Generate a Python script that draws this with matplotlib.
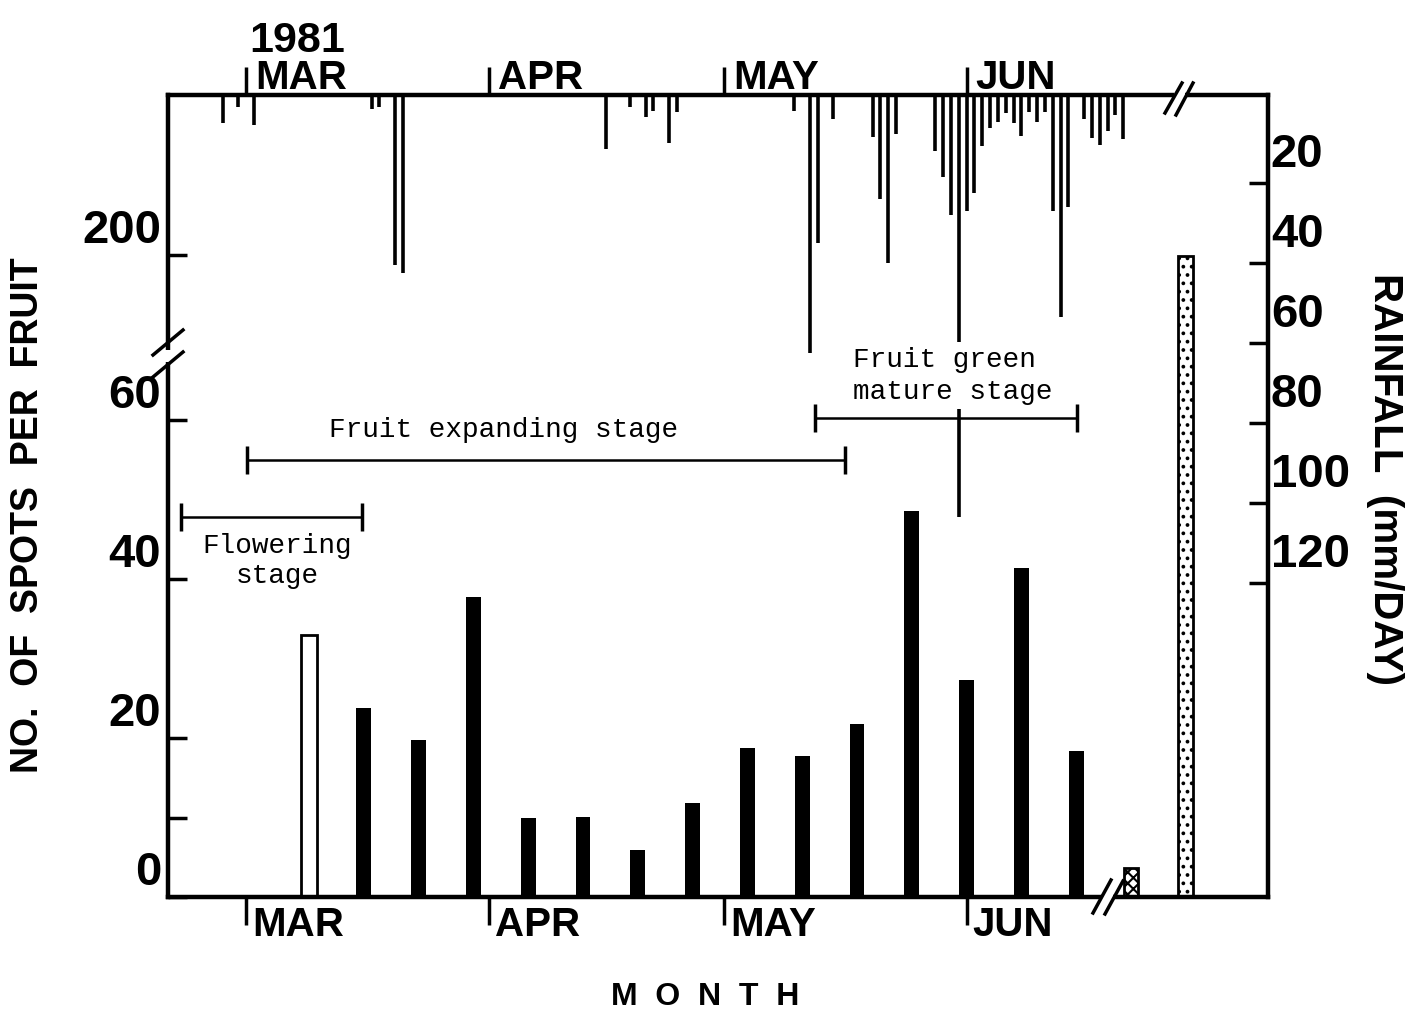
import numpy as np
import matplotlib.pyplot as plt
from matplotlib.transforms import ScaledTranslation, offset_copy, blended_transform_factory

plt.rcParams['font.family'] = ['Liberation Sans', 'DejaVu Sans']
plt.rcParams['font.weight'] = 'bold'
plt.rcParams['hatch.linewidth'] = 1.5

# day numbers counted from 1 March 1981
month_days = [0, 31, 61, 92]
month_names = ['MAR', 'APR', 'MAY', 'JUN']

spot_days = [8, 15, 22, 29, 36, 43, 50, 57, 64, 71, 78, 85, 92, 99, 106]
spot_counts = [33.0, 23.8, 19.7, 37.7, 9.9, 10.1, 5.9, 11.8, 18.7, 17.7,
               21.8, 48.6, 27.3, 41.4, 18.4]
extra_days = [113, 120]
extra_counts = [3.6, 199]

rain_days = [-3, -1, 1, 16, 17, 19, 20, 46, 49, 51, 52, 54, 55, 70, 72, 73,
             75, 80, 81, 82, 83, 88, 89, 90, 91, 92, 93, 94, 95, 96, 97, 98,
             99, 100, 101, 102, 103, 104, 105, 107, 108, 109, 110, 111, 112]
rain_mm = [5, 1, 5.5, 1.5, 1, 40.5, 42.5, 11.5, 1, 3.5, 2, 10, 2.3, 2, 62.5,
           35, 4, 8.5, 24, 40, 7.8, 12, 18.5, 28, 103.5, 27, 22.5, 10.8, 6.3,
           4.8, 2.5, 5, 8.3, 2.3, 4.8, 2.3, 27, 53.5, 26, 4, 8.7, 10.5, 7, 3, 9]

stages = ['Flowering\nstage', 'Fruit expanding stage', 'Fruit green\nmature stage']
stage_start = [-8.3, 0.1, 72.7]
stage_end = [14.8, 76.5, 106.1]
stage_level = [47.8, 55.0, 60.3]


def fwd(v):
    v = np.asarray(v, dtype=float)
    return np.where(v <= 70, v,
                    np.where(v <= 200, 70 + (v - 70) * 10.75 / 130, 80.75 + (v - 200)))


def inv(u):
    u = np.asarray(u, dtype=float)
    return np.where(u <= 70, u,
                    np.where(u <= 80.75, 70 + (u - 70) * 130 / 10.75, 200 + (u - 80.75)))


fig = plt.figure(figsize=(14.05, 10.10), dpi=100)
ax = fig.add_axes([168 / 1405, 1 - 897 / 1010, 1100 / 1405, 802 / 1010])
ax.set_yscale('function', functions=(fwd, inv))
ax.set_xlim(-10, 130.5)
ax.set_ylim(0, float(inv(100.9)))

for s in ax.spines.values():
    s.set_linewidth(3.2)

# spots per fruit
ax.bar(spot_days[0], spot_counts[0], width=2.0, facecolor='white',
       edgecolor='black', linewidth=2)
ax.bar(spot_days[1:], spot_counts[1:], width=1.9, color='black')
ax.bar(extra_days[0], extra_counts[0], width=1.9, facecolor='white',
       edgecolor='black', hatch='xxx', linewidth=2)
ax.bar(extra_days[1], extra_counts[1], width=1.9, facecolor='white',
       edgecolor='black', hatch='..', linewidth=2)

ax.set_yticks([0, 10, 20, 40, 60, 200])
ax.set_yticklabels(['0', '', '20', '40', '60', '200'])
ax.tick_params(axis='y', direction='in', length=14, width=2.5, labelsize=34, pad=5)
for lab in ax.get_yticklabels():
    lab.set_transform(lab.get_transform() + ScaledTranslation(0, 0.29, fig.dpi_scale_trans))

ax.set_xticks(month_days)
ax.set_xticklabels([])
ax.tick_params(axis='x', direction='out', length=20, width=2.5, top=True)

# rainfall, hanging from the top
ax2 = ax.twinx()
ax2.set_ylim(198.5, -2)
for s in ax2.spines.values():
    s.set_visible(False)
ax2.vlines(rain_days, -2, rain_mm, color='black', linewidth=2.6)
ax2.set_yticks([20, 40, 60, 80, 100, 120])
ax2.tick_params(axis='y', direction='in', length=14, width=2.5, labelsize=34, pad=2)
for lab in ax2.get_yticklabels():
    lab.set_transform(lab.get_transform() + ScaledTranslation(0, 0.33, fig.dpi_scale_trans))

# month labels
bt = blended_transform_factory(ax.transData, ax.transAxes)
for d, name in zip(month_days, month_names):
    ax.text(d, 0, name, transform=offset_copy(bt, fig=fig, x=6, y=-28, units='dots'),
            ha='left', va='center', fontsize=29)
    ax.text(d, 1, name, transform=offset_copy(bt, fig=fig, x=9, y=6, units='dots'),
            ha='left', va='baseline', fontsize=29)
ax.text(month_days[0], 1, '1981', transform=offset_copy(bt, fig=fig, x=3, y=43, units='dots'),
        ha='left', va='baseline', fontsize=31)

# growth stages
mono = ['Liberation Mono', 'DejaVu Sans Mono']
for x0, x1, lvl in zip(stage_start, stage_end, stage_level):
    ax2.plot([x0, x1], [lvl, lvl], transform=ax.transData, color='black', lw=1.8,
             marker='|', markersize=20, markeredgewidth=2.5, zorder=4)
ax2.text(4.0, 42.3, stages[0], transform=ax.transData, family=mono, fontweight='normal',
         fontsize=20, ha='center', va='center', multialignment='center')
ax2.text(32.8, 58.7, stages[1], transform=ax.transData, family=mono, fontweight='normal',
         fontsize=20, ha='center', va='center')
ax2.text(77.5, 65.6, stages[2], transform=ax.transData, family=mono, fontweight='normal',
         fontsize=20, ha='left', va='center', multialignment='left', zorder=5,
         linespacing=1.3, bbox=dict(facecolor='white', edgecolor='none', pad=3))


# axis breaks
def axis_break(gap_x, gap_y, slashes):
    ax2.plot(gap_x, gap_y, transform=ax2.transAxes, color='white', lw=6,
             clip_on=False, zorder=10, solid_capstyle='butt')
    for (xa, ya), (xb, yb) in slashes:
        ax2.plot([xa, xb], [ya, yb], transform=ax2.transAxes, color='black',
                 lw=2.5, clip_on=False, zorder=11)


def frac(px, py):
    return ((px - 168) / 1100, (897 - py) / 802)


axis_break([frac(1102, 0)[0], frac(1113, 0)[0]], [0, 0],
           [(frac(1093, 913), frac(1111, 880)), (frac(1105, 914), frac(1123, 881))])
axis_break([frac(1174, 0)[0], frac(1185, 0)[0]], [1, 1],
           [(frac(1165, 113), frac(1182, 83)), (frac(1176, 115), frac(1193, 83))])
axis_break([0, 0], [frac(0, 350)[1], frac(0, 362)[1]],
           [(frac(153, 355), frac(183, 330)), (frac(153, 377), frac(183, 352))])

# axis titles
fig.text(28 / 1405, 1 - 515 / 1010, 'NO.  OF  SPOTS  PER  FRUIT', rotation=90,
         ha='center', va='center', fontsize=27)
fig.text(1385 / 1405, 1 - 479 / 1010, 'RAINFALL  (mm/DAY)', rotation=270,
         ha='center', va='center', fontsize=29)
fig.text(705 / 1405, 1 - 997 / 1010, 'M  O  N  T  H', ha='center', va='center', fontsize=23)

fig.savefig('out.png', dpi=100)
